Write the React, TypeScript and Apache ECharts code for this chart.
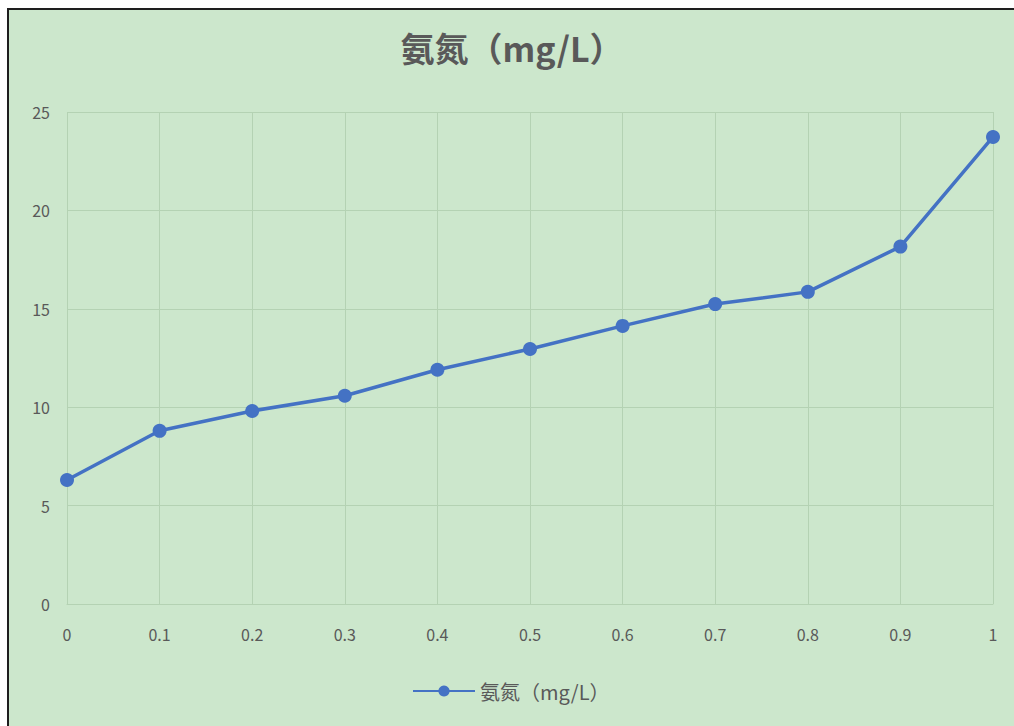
import React, { useEffect, useRef } from "react";
import * as echarts from "echarts";

const categories = ["0", "0.1", "0.2", "0.3", "0.4", "0.5", "0.6", "0.7", "0.8", "0.9", "1"];
const ammoniaValues = [6.3, 8.8, 9.81, 10.58, 11.9, 12.96, 14.13, 15.24, 15.86, 18.16, 23.73];
const seriesName = "氨氮（mg/L）";
const titleText = "氨氮（mg/L）";

const BG = "#cce7cc";
const GRID = "#b4d2b3";
const TEXT = "#595959";
const LINE = "#4472c4";

export default function App() {
  const ref = useRef<HTMLDivElement>(null);

  useEffect(() => {
    document.body.style.overflow = "hidden";
    if (!ref.current) return;
    const chart = echarts.init(ref.current, undefined, { renderer: "svg" });
    chart.setOption({
      animation: false,
      backgroundColor: BG,
      title: {
        text: titleText,
        left: 507 - 9,
        textAlign: "center",
        top: 15,
        textStyle: {
          fontFamily: "Noto Sans CJK SC",
          fontSize: 34,
          fontWeight: "bold",
          color: TEXT,
        },
      },
      grid: { left: 58, right: 36, top: 102, bottom: 136 },
      xAxis: {
        type: "category",
        data: categories,
        boundaryGap: false,
        axisLine: { show: true, lineStyle: { color: GRID, width: 1 } },
        axisTick: { show: false },
        splitLine: { show: true, lineStyle: { color: GRID, width: 1 } },
        axisLabel: {
          color: TEXT,
          fontSize: 16,
          fontFamily: "Noto Sans CJK SC",
          margin: 22,
        },
      },
      yAxis: {
        type: "value",
        min: 0,
        max: 25,
        interval: 5,
        axisLine: { show: false },
        axisTick: { show: false },
        splitLine: { show: true, lineStyle: { color: GRID, width: 1 } },
        axisLabel: {
          color: TEXT,
          fontSize: 16,
          fontFamily: "Noto Sans CJK SC",
          margin: 17,
        },
      },
      legend: {
        bottom: 34,
        left: 398,
        itemWidth: 62,
        itemHeight: 14,
        itemGap: 10,
        textStyle: { color: TEXT, fontSize: 20, fontFamily: "Noto Sans CJK SC" },
        data: [seriesName],
      },
      series: [
        {
          name: seriesName,
          type: "line",
          data: ammoniaValues,
          symbol: "circle",
          symbolSize: 14,
          lineStyle: { color: LINE, width: 3.5 },
          itemStyle: { color: LINE },
        },
      ],
    });
    return () => chart.dispose();
  }, []);

  return (
    <div
      ref={ref}
      style={{
        position: "absolute",
        left: 7,
        top: 8,
        width: 1020,
        height: 730,
        borderLeft: "2px solid #1e1e1e",
        borderTop: "2px solid #1e1e1e",
      }}
    />
  );
}
